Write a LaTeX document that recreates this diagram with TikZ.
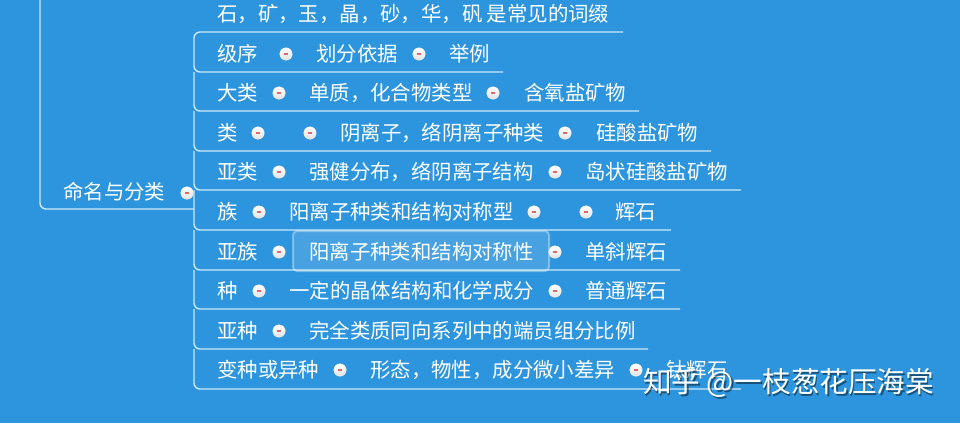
\documentclass[tikz,border=0pt]{standalone}
\usepackage{fontspec}
\newfontfamily\cjk{Noto Sans CJK SC}
\definecolor{bgblue}{RGB}{45,149,221}
\definecolor{lineclr}{RGB}{205,232,250}
\definecolor{dashred}{RGB}{222,105,105}
\begin{document}
\begin{tikzpicture}[x=1pt,y=-1pt,
  txt/.style={anchor=west, inner sep=0pt, text=white, font=\cjk\fontsize{20.4}{20.4}\selectfont},
  dot/.style={circle, inner sep=0pt, minimum size=12.5pt, top color=white, bottom color=gray!22,
    draw=white!85!gray, line width=0.4pt,
    path picture={\draw[dashred, line width=1.1pt]
      ([xshift=-2.3pt]path picture bounding box.center) -- ([xshift=2.3pt]path picture bounding box.center);}},
  conn/.style={draw=lineclr, line width=1.4pt, rounded corners=6pt},
  hlbox/.style={draw=white, draw opacity=0.35, fill=white, fill opacity=0.13, line width=2pt,
    rounded corners=4pt, minimum width=256pt, minimum height=40pt, inner sep=0pt},
  wm/.style={anchor=west, inner sep=0pt, font=\cjk\fontsize{28.6}{28.6}\selectfont},
]
\fill[bgblue] (0,0) rectangle (960,423);
\useasboundingbox (0,0) rectangle (960,423);

% coordinates of the tree lines
\coordinate (top) at (40,-3);
\coordinate (mmend) at (194,209);
\coordinate (e0) at (623,32);
\coordinate (l1) at (194,72);   \coordinate (e1) at (503,72);
\coordinate (l2) at (194,111);  \coordinate (e2) at (639,111);
\coordinate (l3) at (194,151);  \coordinate (e3) at (711,151);
\coordinate (l4) at (194,190);  \coordinate (e4) at (741,190);
\coordinate (l5) at (194,230);  \coordinate (e5) at (671,230);
\coordinate (l6) at (194,270);  \coordinate (e6) at (680,270);
\coordinate (l7) at (194,309);  \coordinate (e7) at (680,309);
\coordinate (l8) at (194,349);  \coordinate (e8) at (648,349);
\coordinate (l9) at (194,389);  \coordinate (e9) at (741,389);

\draw[conn] (top) |- (mmend);
\draw[conn] (e0) -| (l1) -- (e1);
\draw[conn] (l1) |- (e2);
\draw[conn] (l2) |- (e3);
\draw[conn] (l3) |- (e4);
\draw[conn] (l4) |- (e5);
\draw[conn] (l5) |- (e6);
\draw[conn] (l6) |- (e7);
\draw[conn] (l7) |- (e8);
\draw[conn] (l8) |- (e9);

% highlight box
\node[hlbox] (hl) at (421,251) {};

% parent
\node[txt] (mm) at (63,192) {命名与分类};
\node[dot] (dmm) at (187,193) {};

% rows
\node[txt] (r0a) at (217,14) {石，矿，玉，晶，砂，华，矾 是常见的词缀};

\node[txt] (r1a) at (217,54) {级序};
\node[dot] (d1a) at (286,54) {};
\node[txt] (r1b) at (316,54) {划分依据};
\node[dot] (d1b) at (419,54) {};
\node[txt] (r1c) at (449,54) {举例};

\node[txt] (r2a) at (217,93) {大类};
\node[dot] (d2a) at (279,93) {};
\node[txt] (r2b) at (309,93) {单质，化合物类型};
\node[dot] (d2b) at (493,93) {};
\node[txt] (r2c) at (524,93) {含氧盐矿物};

\node[txt] (r3a) at (217,133) {类};
\node[dot] (d3a) at (258,133) {};
\node[dot] (d3b) at (310,133) {};
\node[txt] (r3b) at (340,133) {阴离子，络阴离子种类};
\node[dot] (d3c) at (565,133) {};
\node[txt] (r3c) at (596,133) {硅酸盐矿物};

\node[txt] (r4a) at (217,172) {亚类};
\node[dot] (d4a) at (279,172) {};
\node[txt] (r4b) at (309,172) {强健分布，络阴离子结构};
\node[dot] (d4b) at (555,172) {};
\node[txt] (r4c) at (585,172) {岛状硅酸盐矿物};

\node[txt] (r5a) at (217,212) {族};
\node[dot] (d5a) at (259,212) {};
\node[txt] (r5b) at (289,212) {阳离子种类和结构对称型};
\node[dot] (d5b) at (534,212) {};
\node[dot] (d5c) at (586,212) {};
\node[txt] (r5c) at (615,212) {辉石};

\node[txt] (r6a) at (217,252) {亚族};
\node[dot] (d6a) at (279,252) {};
\node[txt] (r6b) at (309,252) {阳离子种类和结构对称性};
\node[dot] (d6b) at (555,252) {};
\node[txt] (r6c) at (585,252) {单斜辉石};

\node[txt] (r7a) at (217,291) {种};
\node[dot] (d7a) at (259,291) {};
\node[txt] (r7b) at (289,291) {一定的晶体结构和化学成分};
\node[dot] (d7b) at (555,291) {};
\node[txt] (r7c) at (585,291) {普通辉石};

\node[txt] (r8a) at (217,331) {亚种};
\node[dot] (d8a) at (279,331) {};
\node[txt] (r8b) at (309,331) {完全类质同向系列中的端员组分比例};

\node[txt] (r9a) at (217,370) {变种或异种};
\node[dot] (d9a) at (340,370) {};
\node[txt] (r9b) at (370,370) {形态，物性，成分微小差异};
\node[dot] (d9b) at (636,370) {};
\node[txt] (r9c) at (666,370) {钛辉石};

% watermark
\node[wm, text=black, opacity=0.45] (wms) at (644.5,384.5) {知乎 @一枝葱花压海棠};
\node[wm, text=white] (wmt) at (643,383) {知乎 @一枝葱花压海棠};
\end{tikzpicture}
\end{document}
